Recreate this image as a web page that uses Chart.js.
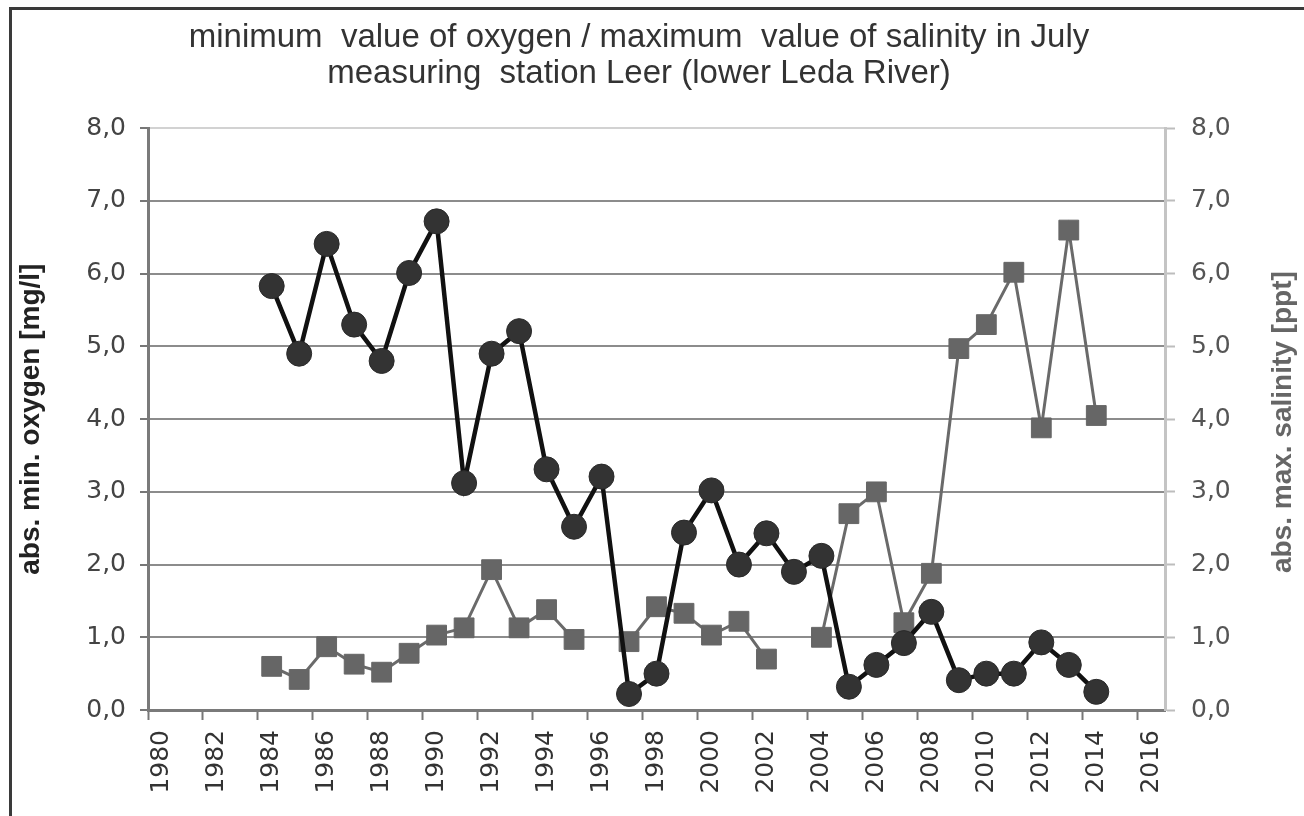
<!DOCTYPE html>
<html lang="en">
<head>
  <meta charset="utf-8">
  <title>Oxygen / salinity Leer</title>
  <script src="https://cdn.jsdelivr.net/npm/chart.js"></script>
  <style>
    html, body { margin: 0; padding: 0; background: #fff; }
    #wrap { position: relative; width: 1304px; height: 816px; }
  </style>
</head>
<body>
  <div id="wrap"><canvas id="chart"></canvas></div>

  <script>
    // categories (every year, only every 2nd one labelled)
    const years = ['1980', '1981', '1982', '1983', '1984', '1985', '1986', '1987', '1988', '1989',
      '1990', '1991', '1992', '1993', '1994', '1995', '1996', '1997', '1998', '1999',
      '2000', '2001', '2002', '2003', '2004', '2005', '2006', '2007', '2008', '2009',
      '2010', '2011', '2012', '2013', '2014', '2015', '2016'];

    // abs. min. oxygen [mg/l]
    const oxygen = [null, null, null, null,
      5.83, 4.9, 6.41, 5.3, 4.8, 6.01, 6.72, 3.12, 4.9, 5.21,
      3.31, 2.52, 3.21, 0.22, 0.5, 2.44, 3.02, 2.0, 2.43, 1.9,
      2.12, 0.32, 0.62, 0.92, 1.35, 0.41, 0.5, 0.5, 0.93, 0.62, 0.25,
      null, null];

    // abs. max. salinity [ppt]
    const salinity = [null, null, null, null,
      0.6, 0.42, 0.87, 0.63, 0.52, 0.78, 1.03, 1.13, 1.93, 1.13,
      1.38, 0.97, null, 0.94, 1.42, 1.33, 1.03, 1.22, 0.7, null,
      1.0, 2.7, 3.0, 1.2, 1.88, 4.97, 5.3, 6.02, 3.88, 6.6, 4.05,
      null, null];

    const yTicks = [0, 1, 2, 3, 4, 5, 6, 7, 8];

    const titleLines = ['minimum  value of oxygen / maximum  value of salinity in July',
      'measuring  station Leer (lower Leda River)'];
    const leftTitle = 'abs. min. oxygen [mg/l]';
    const rightTitle = 'abs. max. salinity [ppt]';

    const tickFont = { family: "'DejaVu Sans', sans-serif", size: 25 };
    const axisTitleFont = { family: "'Liberation Sans Narrow', 'Liberation Sans', sans-serif", size: 28, weight: 'bold' };

    const fmt = v => Number(v).toFixed(1).replace('.', ',');

    // white background, frame on the left / top, right axis title
    const framePlugin = {
      id: 'frame',
      beforeDraw(chart) {
        const ctx = chart.ctx;
        ctx.save();
        ctx.fillStyle = '#fff';
        ctx.fillRect(0, 0, chart.width, chart.height);
        ctx.strokeStyle = '#3a3a3a';
        ctx.lineWidth = 3;
        ctx.beginPath();
        ctx.moveTo(10.5, chart.height);
        ctx.lineTo(10.5, 8.5);
        ctx.lineTo(chart.width, 8.5);
        ctx.stroke();
        ctx.restore();
      },
      afterDraw(chart) {
        const ctx = chart.ctx;
        const a = chart.chartArea;
        ctx.save();
        ctx.translate(1283, (a.top + a.bottom) / 2 + 3);
        ctx.rotate(-Math.PI / 2);
        ctx.font = `${axisTitleFont.weight} ${axisTitleFont.size}px ${axisTitleFont.family}`;
        ctx.fillStyle = '#666';
        ctx.textAlign = 'center';
        ctx.textBaseline = 'middle';
        ctx.fillText(rightTitle, 0, 0);
        ctx.restore();
      }
    };

    new Chart(document.getElementById('chart'), {
      type: 'line',
      data: {
        labels: years,
        datasets: [
          {
            label: 'oxygen',
            data: oxygen,
            yAxisID: 'y',
            borderColor: '#111',
            borderWidth: 4.5,
            pointStyle: 'circle',
            pointRadius: 12.5,
            pointBackgroundColor: '#333',
            pointBorderColor: '#2a2a2a',
            pointBorderWidth: 1,
            tension: 0
          },
          {
            label: 'salinity',
            data: salinity,
            yAxisID: 'y2',
            borderColor: '#6a6a6a',
            borderWidth: 3,
            pointStyle: 'rect',
            pointRadius: 14,
            pointBackgroundColor: '#666',
            pointBorderColor: '#666',
            pointBorderWidth: 1,
            tension: 0
          }
        ]
      },
      options: {
        responsive: true,
        maintainAspectRatio: false,
        animation: false,
        layout: { padding: { left: 10, right: 36, top: 0, bottom: 0 } },
        plugins: {
          legend: { display: false },
          tooltip: { enabled: false },
          title: {
            display: true,
            text: titleLines,
            color: '#333',
            font: { family: "'Liberation Sans', Arial, sans-serif", size: 33, weight: 'normal', lineHeight: 1.08 },
            padding: { top: 20, bottom: 37 }
          }
        },
        scales: {
          x: {
            type: 'category',
            offset: true,
            grid: {
              offset: true,
              drawOnChartArea: false,
              tickLength: 10,
              tickWidth: 2,
              tickColor: c => (c.index % 2 === 0 ? '#777' : 'rgba(0,0,0,0)')
            },
            border: { color: '#7a7a7a', width: 3 },
            ticks: {
              autoSkip: false,
              maxRotation: 90,
              minRotation: 90,
              padding: 10,
              color: '#333',
              font: tickFont,
              callback: (v, i) => (i % 2 === 0 ? years[i] : '')
            },
            afterFit: s => { s.height = 106; }
          },
          y: {
            position: 'left',
            min: 0,
            max: 8,
            afterBuildTicks: s => { s.ticks = yTicks.map(v => ({ value: v })); },
            ticks: { color: '#444', font: tickFont, padding: 14, callback: fmt },
            grid: {
              color: c => (c.tick && c.tick.value === 8 ? '#d2d2d2' : '#8c8c8c'),
              lineWidth: 2,
              tickLength: 8,
              tickWidth: 2,
              tickColor: '#777'
            },
            border: { color: '#7a7a7a', width: 3 },
            title: {
              display: true,
              text: leftTitle,
              color: '#222',
              font: axisTitleFont,
              padding: { top: 4, bottom: 0 }
            },
            afterFit: s => { s.width = 138; }
          },
          y2: {
            position: 'right',
            min: 0,
            max: 8,
            afterBuildTicks: s => { s.ticks = yTicks.map(v => ({ value: v })); },
            ticks: { color: '#555', font: tickFont, padding: 16, callback: fmt },
            grid: {
              drawOnChartArea: false,
              tickLength: 10,
              tickWidth: 2,
              tickColor: '#bdbdbd'
            },
            border: { color: '#c4c4c4', width: 3 },
            afterFit: s => { s.width = 103; }
          }
        }
      },
      plugins: [framePlugin]
    });
  </script>
</body>
</html>
